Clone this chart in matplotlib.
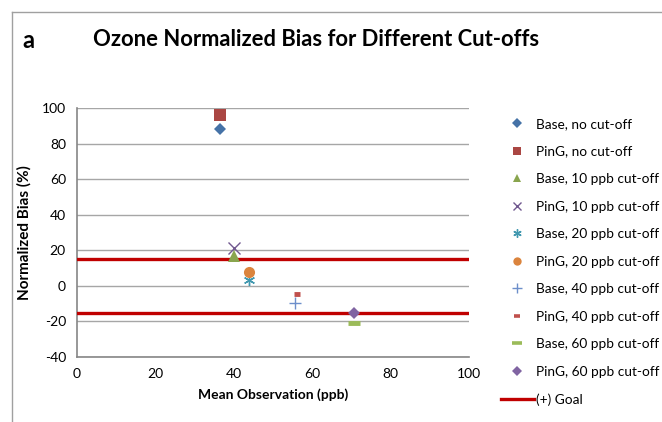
import matplotlib
matplotlib.use("Agg")
import matplotlib.pyplot as plt
from matplotlib.lines import Line2D

plt.rcParams['font.family'] = ['Lato', 'DejaVu Sans']
plt.rcParams['axes.unicode_minus'] = False

labels = ["Base, no cut-off", "PinG, no cut-off", "Base, 10 ppb cut-off",
          "PinG, 10 ppb cut-off", "Base, 20 ppb cut-off", "PinG, 20 ppb cut-off",
          "Base, 40 ppb cut-off", "PinG, 40 ppb cut-off", "Base, 60 ppb cut-off",
          "PinG, 60 ppb cut-off"]
mean_obs = [36.5, 36.5, 40.0, 40.0, 44.0, 44.0, 55.5, 56.2, 70.7, 70.7]
norm_bias = [88.0, 96.0, 17.0, 21.5, 3.5, 8.0, -9.5, -4.5, -21.0, -15.0]
goal_x = [0, 10, 100]
goal_upper = [15, 15, 15]
goal_lower = [-15, -15, -15]

styles = [
    dict(marker='D', color='#4572A7', ms=6.5, mew=0),
    dict(marker='s', color='#AA4643', ms=8, mew=0),
    dict(marker='^', color='#89A54E', ms=8, mew=0),
    dict(marker='x', color='#71588F', ms=8, mew=1.0),
    dict(marker=(6, 2, 0), color='#4198AF', ms=8, mew=1.0),
    dict(marker='o', color='#DB843D', ms=8, mew=0),
    dict(marker='+', color='#6D8FCB', ms=9, mew=1.0),
    dict(marker='_', color='#C0504D', ms=5, mew=3.5),
    dict(marker='_', color='#9BBB59', ms=9, mew=3.5),
    dict(marker='D', color='#8064A2', ms=6.5, mew=0),
]

fig = plt.figure(figsize=(6.62, 4.22), dpi=100)
ax = fig.add_axes([77/662, 1-357/422, (469-77)/662, (357-108)/422])

# frame border
fig.add_artist(Line2D([12/662, 12/662], [0, 1-12/422], transform=fig.transFigure,
                      color='#A0A0A0', lw=1))
fig.add_artist(Line2D([12/662, 1], [1-12/422, 1-12/422], transform=fig.transFigure,
                      color='#A0A0A0', lw=1))

ax.set_xlim(0, 100)
ax.set_ylim(-40, 100)
ax.set_xticks(range(0, 101, 20))
ax.set_yticks(range(-40, 101, 20))
ax.grid(axis='y', color='#A6A6A6', lw=1)
ax.set_axisbelow(True)
for s in ['top', 'right']:
    ax.spines[s].set_visible(False)
for s in ['left', 'bottom']:
    ax.spines[s].set_color('#868686')
    ax.spines[s].set_linewidth(1.2)
ax.tick_params(length=0, labelsize=10, colors='#000000', pad=8)

handles = []
for xv, yv, lab, st in zip(mean_obs, norm_bias, labels, styles):
    h, = ax.plot([xv], [yv], linestyle='none', marker=st['marker'], color=st['color'],
                 markersize=st['ms'], markeredgewidth=st['mew'], label=lab, zorder=4)
    handles.append(h)

g1, = ax.plot(goal_x, goal_upper, color='#C00000', lw=2.4, label='(+) Goal', zorder=3)
ax.plot(goal_x, goal_lower, color='#C00000', lw=2.4, zorder=3)
handles.append(g1)

ax.set_xlabel('Mean Observation (ppb)', fontsize=10, fontweight='bold', labelpad=6)
ax.set_ylabel('Normalized Bias (%)', fontsize=11, fontweight='bold', labelpad=7)

fig.text(22/662, 1-40/422, 'a', fontsize=17, fontweight='bold', va='center', ha='left')
fig.text(93/662, 1-40/422, 'Ozone Normalized Bias for Different Cut-offs', fontsize=15.8,
         fontweight='bold', va='center', ha='left')

leg = fig.legend(handles=handles, loc='upper left', bbox_to_anchor=(501/662, 1-118/422),
                 frameon=False, fontsize=9.8, handlelength=2.4, handletextpad=0.2,
                 labelspacing=1.14, borderaxespad=0, borderpad=0, markerscale=0.75)
for lh in leg.legend_handles:
    if lh.get_marker() == '_':
        lh.set_markeredgewidth(2.6)

fig.savefig('out.png', dpi=100)
